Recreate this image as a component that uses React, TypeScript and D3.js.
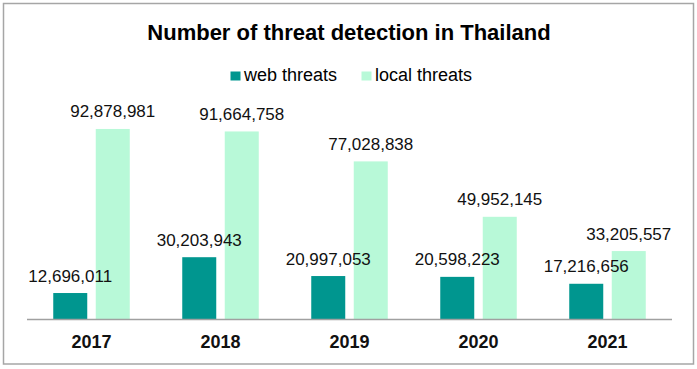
import React from "react";
import * as d3 from "d3";

const years = ["2017", "2018", "2019", "2020", "2021"];
const seriesNames = ["web threats", "local threats"];
const webThreats = [12696011, 30203943, 20997053, 20598223, 17216656];
const localThreats = [92878981, 91664758, 77028838, 49952145, 33205557];
const colors = ["#00968F", "#B8F9D8"];
const title = "Number of threat detection in Thailand";

const W = 697;
const H = 369;
const FONT = "'Liberation Sans', Arial, Helvetica, sans-serif";

export default function App() {
  const x0 = d3.scaleBand<string>().domain(years).range([27, 672]).paddingInner(0.407).paddingOuter(0.2035);
  const x1 = d3.scaleBand<string>().domain(seriesNames).range([0, x0.bandwidth()]).paddingInner(0.2).paddingOuter(0);
  const y = d3.scaleLinear().domain([0, 100e6]).range([319, 114.4]);
  const fmt = d3.format(",");
  const series = [webThreats, localThreats];

  const cells = years.flatMap((yr, yi) =>
    seriesNames.map((s, si) => {
      const v = series[si][yi];
      const bx = x0(yr)! + x1(s)!;
      return { key: `${yr}-${s}`, v, bx, bw: x1.bandwidth(), si };
    })
  );

  return (
    <div style={{ position: "absolute", left: 0, top: 0 }}>
      <svg width={W} height={H} style={{ display: "block", fontFamily: FONT }}>
        <rect x={0} y={0} width={W} height={H} fill="#fff" />
        <rect x={3.5} y={3.5} width={690} height={360.5} fill="none" stroke="#a6a6a6" strokeWidth={1.5} />
        <text x={349} y={40} textAnchor="middle" fontSize={22} fontWeight="bold" fill="#000">
          {title}
        </text>
        {seriesNames.map((s, i) => {
          const lx = [230.5, 361.5][i];
          return (
            <g key={s}>
              <rect x={lx} y={71.5} width={10} height={9} fill={colors[i]} />
              <text x={lx + 13.5} y={81} fontSize={18} fill="#000">
                {s}
              </text>
            </g>
          );
        })}
        {cells.map((c) => (
          <rect key={c.key} x={c.bx} y={y(c.v)} width={c.bw} height={y(0) - y(c.v)} fill={colors[c.si]} />
        ))}
        {cells.map((c) => (
          <text key={c.key + "-l"} x={c.bx + c.bw / 2} y={y(c.v) - 11.5} textAnchor="middle" fontSize={17} fill="#111">
            {fmt(c.v)}
          </text>
        ))}
        <line x1={27} x2={672} y1={319.5} y2={319.5} stroke="#a0a0a0" strokeWidth={1.5} />
        {years.map((yr) => (
          <text key={yr} x={x0(yr)! + x0.bandwidth() / 2} y={348} textAnchor="middle" fontSize={18} fontWeight="bold" fill="#111">
            {yr}
          </text>
        ))}
      </svg>
    </div>
  );
}
